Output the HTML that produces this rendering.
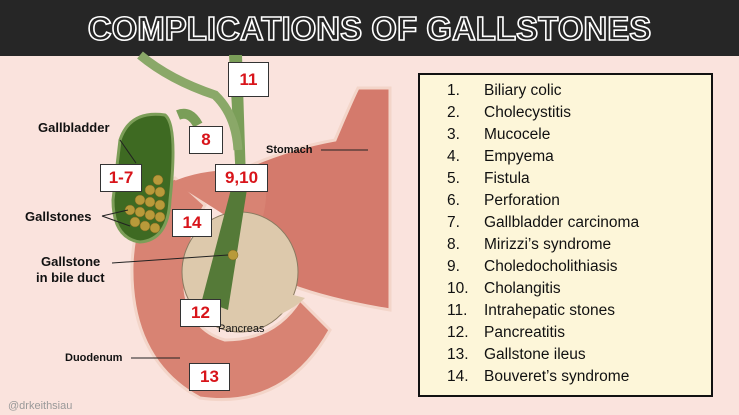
<!DOCTYPE html>
<html><head><style>
body{margin:0;width:739px;height:415px;overflow:hidden;background:#fae3dd;font-family:"Liberation Sans",sans-serif;position:relative}
.bar{position:absolute;left:0;top:0;width:739px;height:56px;background:#262626}
.title{position:absolute;left:0;top:10px;width:739px;text-align:center;font:bold 33px "Liberation Sans",sans-serif;color:#262626;-webkit-text-stroke:1.6px #fff}
.box{position:absolute;left:418px;top:73px;width:291px;height:320px;background:#fdf6d9;border:2px solid #111}
.li{position:absolute;font-size:15.5px;color:#111}
.n{position:absolute;left:27px}
.t{position:absolute;left:64px;white-space:nowrap}
.lb{position:absolute;background:#fff;border:1.5px solid #333;color:#d8141a;font:bold 17px "Liberation Sans",sans-serif;text-align:center;box-sizing:border-box}
.a{position:absolute;font:bold 13px "Liberation Sans",sans-serif;color:#111;white-space:nowrap}
</style></head><body>
<div class="bar"></div>
<div class="title">COMPLICATIONS OF GALLSTONES</div>
<svg width="420" height="415" style="position:absolute;left:0;top:0">
 <!-- stomach -->
 <path d="M230 175 Q280 150 335 140 Q352 100 358 88 L390 88 L390 310 Q330 300 290 285 Q250 240 230 175Z" fill="#d47a6c" stroke="#f3d5c9" stroke-width="3"/>
 <!-- duodenum C loop -->
 <path d="M175 178 Q135 195 132 265 Q130 360 200 398 Q285 410 330 330 L300 300 Q275 340 225 340 Q190 330 185 290 Q188 235 205 205Z" fill="#d88373" stroke="#f3d5c9" stroke-width="3"/>
 <path d="M172 182 Q210 165 265 172 Q270 210 255 235 Q210 205 172 182Z" fill="#d88373"/>
 <!-- pancreas -->
 <ellipse cx="240" cy="272" rx="58" ry="60" fill="#ddc9ac" stroke="#8a7a60" stroke-width="1"/>
 <path d="M235 328 Q285 318 305 298 L255 285Z" fill="#ddc9ac"/>
 <!-- ducts -->
 <path d="M229 55 L242 55 L246 180 L236 180Z" fill="#7a9e58"/>
 <path d="M236 170 L250 170 L228 310 L202 300Z" fill="#557a38"/>
 <path d="M140 55 Q170 80 215 95 Q236 115 238 150" fill="none" stroke="#8aa868" stroke-width="9"/>
 <path d="M178 115 Q190 110 198 125" fill="none" stroke="#7a9e58" stroke-width="10"/>
 <!-- gallbladder -->
 <path d="M120 140 Q130 110 165 115 Q178 125 170 200 Q168 240 140 242 Q113 238 113 200Z" fill="#3e6a22" stroke="#7c9e58" stroke-width="3"/>
 <g fill="#b89a3a" stroke="#7a6320" stroke-width="0.5">
 <circle cx="150" cy="190" r="5"/><circle cx="160" cy="192" r="5"/><circle cx="140" cy="200" r="5"/><circle cx="150" cy="202" r="5"/><circle cx="160" cy="205" r="5"/><circle cx="130" cy="210" r="5"/><circle cx="140" cy="212" r="5"/><circle cx="150" cy="215" r="5"/><circle cx="160" cy="217" r="5"/><circle cx="135" cy="222" r="5"/><circle cx="145" cy="226" r="5"/><circle cx="155" cy="228" r="5"/><circle cx="158" cy="180" r="5"/>
 <circle cx="233" cy="255" r="5"/></g>
 <g stroke="#222" stroke-width="1" fill="none">
 <line x1="120" y1="140" x2="136" y2="163"/>
 <line x1="102" y1="216" x2="128" y2="210"/><line x1="102" y1="216" x2="130" y2="226"/>
 <line x1="112" y1="263" x2="228" y2="255"/>
 <line x1="321" y1="150" x2="368" y2="150"/>
 <line x1="131" y1="358" x2="180" y2="358"/>
 </g>
</svg>
<div class="a" style="left:38px;top:120px">Gallbladder</div>
<div class="a" style="left:25px;top:209px">Gallstones</div>
<div class="a" style="left:41px;top:254px">Gallstone</div>
<div class="a" style="left:36px;top:270px">in bile duct</div>
<div class="a" style="left:266px;top:144px;font-size:11px">Stomach</div>
<div class="a" style="left:65px;top:352px;font-size:11px">Duodenum</div>
<div class="a" style="left:218px;top:323px;font-size:11px;font-weight:normal">Pancreas</div>
<div class="a" style="left:8px;top:400px;font-size:11px;font-weight:normal;color:#999">@drkeithsiau</div>
<div class="lb" style="left:228px;top:62px;width:41px;height:35px;line-height:33px">11</div>
<div class="lb" style="left:189px;top:126px;width:34px;height:28px;line-height:26px">8</div>
<div class="lb" style="left:100px;top:164px;width:42px;height:28px;line-height:26px">1-7</div>
<div class="lb" style="left:215px;top:164px;width:53px;height:28px;line-height:26px">9,10</div>
<div class="lb" style="left:172px;top:209px;width:40px;height:28px;line-height:26px">14</div>
<div class="lb" style="left:180px;top:299px;width:41px;height:28px;line-height:26px">12</div>
<div class="lb" style="left:189px;top:363px;width:41px;height:28px;line-height:26px">13</div>
<div class="box">
<div class="li" style="top:7px"><span class="n">1.</span><span class="t">Biliary colic</span></div>
<div class="li" style="top:29px"><span class="n">2.</span><span class="t">Cholecystitis</span></div>
<div class="li" style="top:51px"><span class="n">3.</span><span class="t">Mucocele</span></div>
<div class="li" style="top:73px"><span class="n">4.</span><span class="t">Empyema</span></div>
<div class="li" style="top:95px"><span class="n">5.</span><span class="t">Fistula</span></div>
<div class="li" style="top:117px"><span class="n">6.</span><span class="t">Perforation</span></div>
<div class="li" style="top:139px"><span class="n">7.</span><span class="t">Gallbladder carcinoma</span></div>
<div class="li" style="top:161px"><span class="n">8.</span><span class="t">Mirizzi’s syndrome</span></div>
<div class="li" style="top:183px"><span class="n">9.</span><span class="t">Choledocholithiasis</span></div>
<div class="li" style="top:205px"><span class="n">10.</span><span class="t">Cholangitis</span></div>
<div class="li" style="top:227px"><span class="n">11.</span><span class="t">Intrahepatic stones</span></div>
<div class="li" style="top:249px"><span class="n">12.</span><span class="t">Pancreatitis</span></div>
<div class="li" style="top:271px"><span class="n">13.</span><span class="t">Gallstone ileus</span></div>
<div class="li" style="top:293px"><span class="n">14.</span><span class="t">Bouveret’s syndrome</span></div>
</div>
</body></html>
